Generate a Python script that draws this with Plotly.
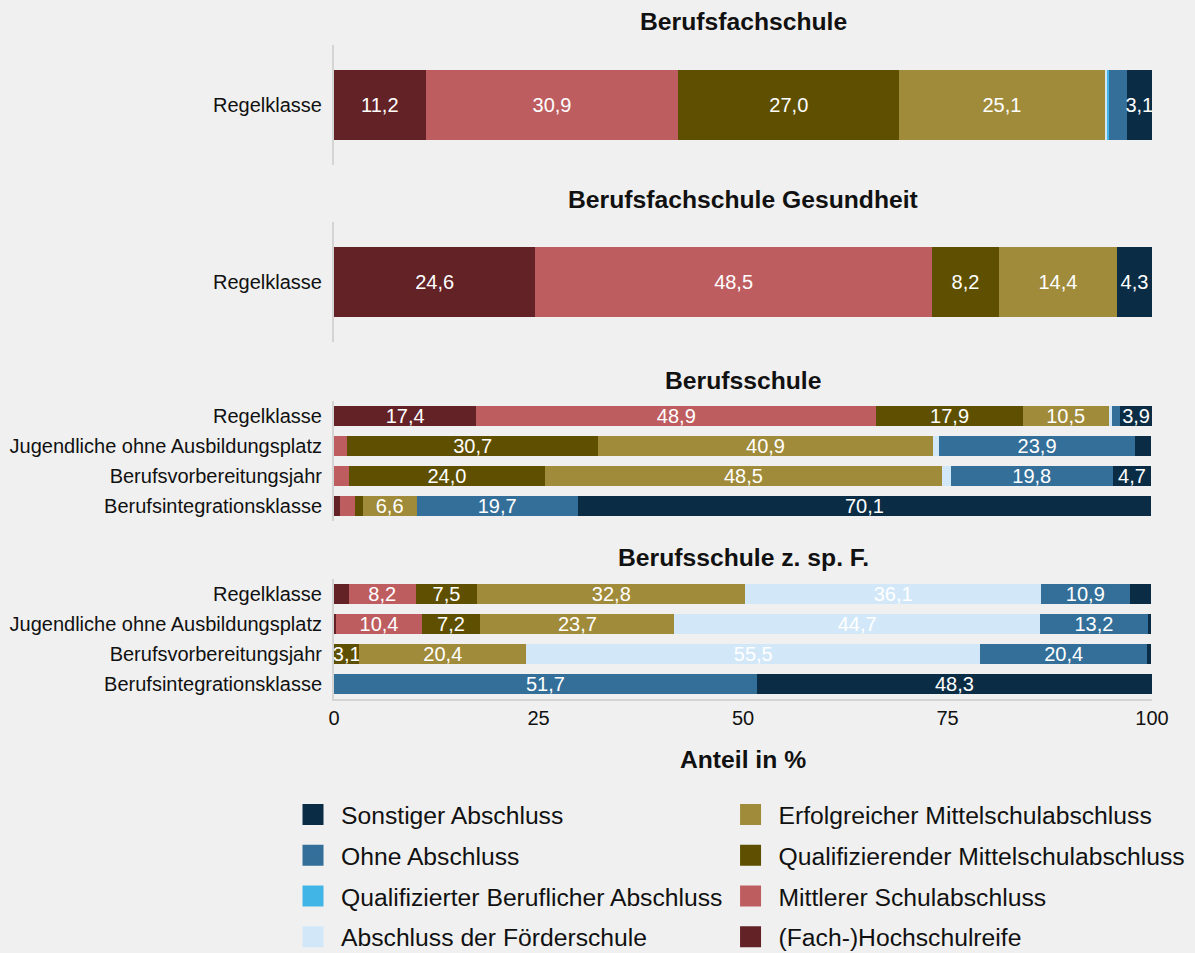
import plotly.graph_objects as go

# ---------------- data ----------------
panel_titles = ["Berufsfachschule", "Berufsfachschule Gesundheit", "Berufsschule", "Berufsschule z. sp. F."]

cats_p1 = ["Regelklasse"]
cats_p2 = ["Regelklasse"]
cats_p3 = ["Regelklasse", "Jugendliche ohne Ausbildungsplatz", "Berufsvorbereitungsjahr", "Berufsintegrationsklasse"]
cats_p4 = ["Regelklasse", "Jugendliche ohne Ausbildungsplatz", "Berufsvorbereitungsjahr", "Berufsintegrationsklasse"]

series_names = [
    "(Fach-)Hochschulreife",
    "Mittlerer Schulabschluss",
    "Qualifizierender Mittelschulabschluss",
    "Erfolgreicher Mittelschulabschluss",
    "Abschluss der Förderschule",
    "Qualifizierter Beruflicher Abschluss",
    "Ohne Abschluss",
    "Sonstiger Abschluss",
]
series_colors = ["#632226", "#be5d5f", "#5e5000", "#a08b3a", "#d2e8f9", "#41b6e6", "#336f99", "#0a2d45"]

# values per panel, in series order above
vals_p1 = {
    "(Fach-)Hochschulreife": [11.2],
    "Mittlerer Schulabschluss": [30.9],
    "Qualifizierender Mittelschulabschluss": [27.0],
    "Erfolgreicher Mittelschulabschluss": [25.1],
    "Abschluss der Förderschule": [0.3],
    "Qualifizierter Beruflicher Abschluss": [0.3],
    "Ohne Abschluss": [2.1],
    "Sonstiger Abschluss": [3.1],
}
vals_p2 = {
    "(Fach-)Hochschulreife": [24.6],
    "Mittlerer Schulabschluss": [48.5],
    "Qualifizierender Mittelschulabschluss": [8.2],
    "Erfolgreicher Mittelschulabschluss": [14.4],
    "Abschluss der Förderschule": [0.0],
    "Qualifizierter Beruflicher Abschluss": [0.0],
    "Ohne Abschluss": [0.0],
    "Sonstiger Abschluss": [4.3],
}
vals_p3 = {
    "(Fach-)Hochschulreife": [17.4, 0.0, 0.0, 0.7],
    "Mittlerer Schulabschluss": [48.9, 1.6, 1.8, 1.9],
    "Qualifizierender Mittelschulabschluss": [17.9, 30.7, 24.0, 0.9],
    "Erfolgreicher Mittelschulabschluss": [10.5, 40.9, 48.5, 6.6],
    "Abschluss der Förderschule": [0.4, 0.8, 1.1, 0.0],
    "Qualifizierter Beruflicher Abschluss": [0.0, 0.0, 0.0, 0.0],
    "Ohne Abschluss": [1.0, 23.9, 19.8, 19.7],
    "Sonstiger Abschluss": [3.9, 2.0, 4.7, 70.1],
}
vals_p4 = {
    "(Fach-)Hochschulreife": [1.8, 0.3, 0.0, 0.0],
    "Mittlerer Schulabschluss": [8.2, 10.4, 0.0, 0.0],
    "Qualifizierender Mittelschulabschluss": [7.5, 7.2, 3.1, 0.0],
    "Erfolgreicher Mittelschulabschluss": [32.8, 23.7, 20.4, 0.0],
    "Abschluss der Förderschule": [36.1, 44.7, 55.5, 0.0],
    "Qualifizierter Beruflicher Abschluss": [0.0, 0.0, 0.0, 0.0],
    "Ohne Abschluss": [10.9, 13.2, 20.4, 51.7],
    "Sonstiger Abschluss": [2.6, 0.4, 0.5, 48.3],
}

x_ticks = [0, 25, 50, 75, 100]
x_title = "Anteil in %"

legend_col1 = ["Sonstiger Abschluss", "Ohne Abschluss", "Qualifizierter Beruflicher Abschluss", "Abschluss der Förderschule"]
legend_col2 = ["Erfolgreicher Mittelschulabschluss", "Qualifizierender Mittelschulabschluss", "Mittlerer Schulabschluss", "(Fach-)Hochschulreife"]

# ---------------- figure ----------------
FONT = "Liberation Sans, Arial, sans-serif"
BG = "#f0f0f0"
AXLINE = "#d4d4d4"

panels = [
    (cats_p1, vals_p1, 0.58),
    (cats_p2, vals_p2, 0.58),
    (cats_p3, vals_p3, 0.67),
    (cats_p4, vals_p4, 0.67),
]

def fmt(v):
    return f"{v:.1f}".replace(".", ",") if v >= 3 else ""

fig = go.Figure()
color_of = dict(zip(series_names, series_colors))

for p, (cats, vals, w) in enumerate(panels, start=1):
    for name in series_names:
        v = vals[name]
        fig.add_trace(go.Bar(
            y=cats, x=v, orientation="h",
            xaxis=f"x{p}", yaxis=f"y{p}",
            name=name, showlegend=False,
            marker=dict(color=color_of[name], line=dict(width=0)),
            width=w,
            text=[fmt(a) for a in v],
            textposition="inside", insidetextanchor="middle", textangle=0,
            textfont=dict(color="white", size=20, family=FONT),
            hoverinfo="skip",
        ))

# legend entries
for legname, names in (("legend", legend_col1), ("legend2", legend_col2)):
    for name in names:
        c = color_of[name]
        fig.add_trace(go.Scatter(
            x=[None], y=[None], mode="markers", xaxis="x4", yaxis="y4",
            name=name, legend=legname, legendgroup=name, showlegend=True,
            marker=dict(symbol="square", size=16, color=c, line=dict(color=c, width=5)),
            hoverinfo="skip",
        ))

domains = [[0.8165, 1.0], [0.5459, 0.7294], [0.2722, 0.4557], [0.0, 0.1835]]
layout = dict(
    width=1195, height=953,
    paper_bgcolor=BG, plot_bgcolor=BG,
    margin=dict(l=334, r=43, t=45, b=254, autoexpand=False),
    barmode="stack",
    font=dict(family=FONT, size=20, color="#111111"),
    uniformtext=dict(minsize=20, mode="show"),
    showlegend=True,
)
for p in range(1, 5):
    n = len(panels[p - 1][0])
    layout[f"xaxis{p}"] = dict(
        domain=[0, 1], anchor=f"y{p}", range=[0, 100], fixedrange=True,
        showgrid=False, zeroline=False,
        showticklabels=(p == 4), tickvals=x_ticks, ticks="",
        showline=(p == 4), linecolor=AXLINE, linewidth=2,
        tickfont=dict(size=20),
    )
    layout[f"yaxis{p}"] = dict(
        domain=domains[p - 1], anchor=f"x{p}",
        type="category", range=[n - 0.5, -0.5], fixedrange=True,
        showgrid=False, zeroline=False, ticks="",
        showline=True, linecolor=AXLINE, linewidth=2,
        tickfont=dict(size=20), ticklabelstandoff=6,
    )
layout["xaxis4"]["title"] = dict(text="<b>" + x_title + "</b>", font=dict(size=24.7), standoff=23)

legend_common = dict(
    orientation="v", bgcolor="rgba(0,0,0,0)", font=dict(size=24.7, family=FONT, color="#111111"),
    itemwidth=46, tracegroupgap=5.7, itemsizing="trace", xanchor="left", yanchor="top",
    itemclick=False, itemdoubleclick=False,
)
layout["legend"] = dict(legend_common, x=-0.0599, y=-0.142)
layout["legend2"] = dict(legend_common, x=0.475, y=-0.142)

title_y = [22, 200, 380, 557]
annotations = []
for t, yp in zip(panel_titles, title_y):
    annotations.append(dict(
        text="<b>" + t + "</b>", x=0.5, xref="paper", y=(699 - yp) / 654, yref="paper",
        xanchor="center", yanchor="middle", showarrow=False, font=dict(size=24.7, color="#111111"),
    ))
layout["annotations"] = annotations

fig.update_layout(**layout)
fig.write_html(
    "out.html",
    config={"displayModeBar": False},
    post_script="document.body.style.margin='0';document.body.style.background='" + BG + "';",
)
